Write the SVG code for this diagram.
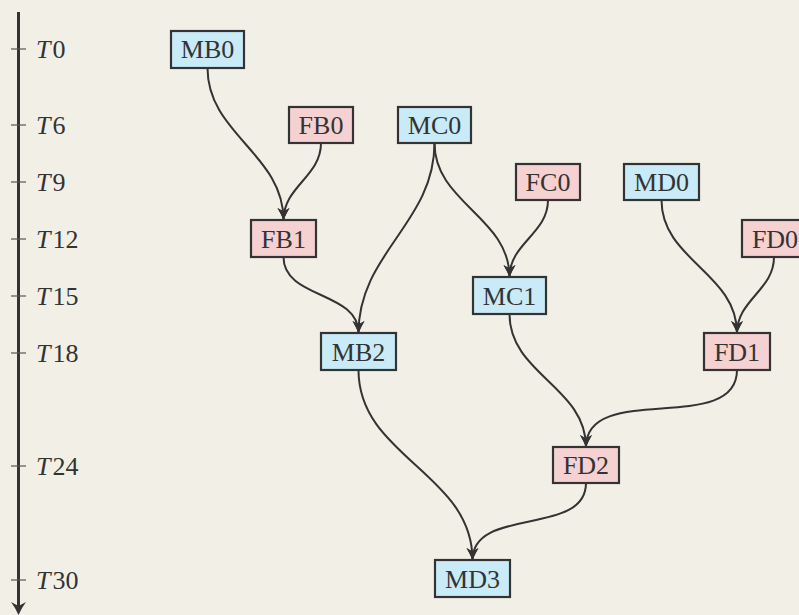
<svg xmlns="http://www.w3.org/2000/svg" width="799" height="615" viewBox="0 0 799 615">
<style>
.bg{fill:#f2f0e6}
.box{stroke:#333;stroke-width:2.2}
.m{fill:#c8ebf7}
.f{fill:#f6d1d1}
.lbl{font-family:"Liberation Serif","Times New Roman",serif;font-size:26px;fill:#333;text-anchor:middle}
.ax{font-family:"Liberation Serif","Times New Roman",serif;font-size:26px;fill:#333}
.edge{fill:none;stroke:#333;stroke-width:2}
.tick{stroke:#555;stroke-width:1.2}
</style>
<defs>
<marker id="arr" markerUnits="userSpaceOnUse" markerWidth="16" markerHeight="16" viewBox="-14 -8 16 16" refX="0" refY="0" orient="auto">
<path d="M0,0 Q-6,-2.5 -12,-6 L-8.5,0 L-12,6 Q-6,2.5 0,0Z" fill="#333"/>
</marker>
</defs>
<rect class="bg" x="0" y="0" width="799" height="615"/>
<g id="axis">
<line x1="18.5" y1="12" x2="18.5" y2="606" stroke="#333" stroke-width="3"/>
<path d="M18.5,615 Q15.5,608 11,602 L18.5,606 L26,602 Q21.5,608 18.5,615Z" fill="#333"/>
<line class="tick" x1="11" y1="49" x2="26" y2="49"/>
<line class="tick" x1="11" y1="125" x2="26" y2="125"/>
<line class="tick" x1="11" y1="182" x2="26" y2="182"/>
<line class="tick" x1="11" y1="239" x2="26" y2="239"/>
<line class="tick" x1="11" y1="296" x2="26" y2="296"/>
<line class="tick" x1="11" y1="353" x2="26" y2="353"/>
<line class="tick" x1="11" y1="466" x2="26" y2="466"/>
<line class="tick" x1="11" y1="580" x2="26" y2="580"/>
<text class="ax" x="36" y="58"><tspan font-style="italic">T</tspan><tspan dx="2">0</tspan></text>
<text class="ax" x="36" y="134"><tspan font-style="italic">T</tspan><tspan dx="2">6</tspan></text>
<text class="ax" x="36" y="191"><tspan font-style="italic">T</tspan><tspan dx="2">9</tspan></text>
<text class="ax" x="36" y="248"><tspan font-style="italic">T</tspan><tspan dx="2">12</tspan></text>
<text class="ax" x="36" y="305"><tspan font-style="italic">T</tspan><tspan dx="2">15</tspan></text>
<text class="ax" x="36" y="362"><tspan font-style="italic">T</tspan><tspan dx="2">18</tspan></text>
<text class="ax" x="36" y="475"><tspan font-style="italic">T</tspan><tspan dx="2">24</tspan></text>
<text class="ax" x="36" y="589"><tspan font-style="italic">T</tspan><tspan dx="2">30</tspan></text>
</g>
<g id="edges">
<path class="edge" marker-end="url(#arr)" d="M207.5,68 C207.5,134 283.5,154 283.5,220"/>
<path class="edge" marker-end="url(#arr)" d="M321,143 C321,176.5 283.5,186.5 283.5,220"/>
<path class="edge" marker-end="url(#arr)" d="M434.5,143 C434.5,223 358.5,253 358.5,333"/>
<path class="edge" marker-end="url(#arr)" d="M434.5,143 C434.5,203 509.5,217 509.5,277"/>
<path class="edge" marker-end="url(#arr)" d="M548,200 C548,233.7 509.5,243.3 509.5,277"/>
<path class="edge" marker-end="url(#arr)" d="M661.5,200 C661.5,260 737,273 737,333"/>
<path class="edge" marker-end="url(#arr)" d="M774,257 C774,290 737,300 737,333"/>
<path class="edge" marker-end="url(#arr)" d="M283.5,257 C283.5,299 358.5,291 358.5,333"/>
<path class="edge" marker-end="url(#arr)" d="M509.5,314 C509.5,374 586,387 586,447"/>
<path class="edge" marker-end="url(#arr)" d="M737,370 C737,436 586,381 586,447"/>
<path class="edge" marker-end="url(#arr)" d="M358.5,370 C358.5,457 472.5,473 472.5,560"/>
<path class="edge" marker-end="url(#arr)" d="M586,483 C586,537 472.5,506 472.5,560"/>
</g>
<g id="MB0"><rect class="box m" x="171" y="31" width="73" height="37"/><text class="lbl" x="207.5" y="58">MB0</text></g>
<g id="FB0"><rect class="box f" x="289" y="107" width="64" height="36"/><text class="lbl" x="321" y="134">FB0</text></g>
<g id="MC0"><rect class="box m" x="398" y="107" width="73" height="36"/><text class="lbl" x="434.5" y="134">MC0</text></g>
<g id="FC0"><rect class="box f" x="516" y="164" width="64" height="36"/><text class="lbl" x="548" y="191">FC0</text></g>
<g id="MD0"><rect class="box m" x="624" y="164" width="75" height="36"/><text class="lbl" x="661.5" y="191">MD0</text></g>
<g id="FB1"><rect class="box f" x="251" y="220" width="65" height="37"/><text class="lbl" x="283.5" y="247.5">FB1</text></g>
<g id="FD0"><rect class="box f" x="742" y="220" width="66" height="37"/><text class="lbl" x="775" y="247.5">FD0</text></g>
<g id="MC1"><rect class="box m" x="473" y="277" width="73" height="37"/><text class="lbl" x="509.5" y="304.5">MC1</text></g>
<g id="MB2"><rect class="box m" x="321" y="333" width="75" height="37"/><text class="lbl" x="358.5" y="360.5">MB2</text></g>
<g id="FD1"><rect class="box f" x="704" y="333" width="66" height="37"/><text class="lbl" x="737" y="360.5">FD1</text></g>
<g id="FD2"><rect class="box f" x="553" y="447" width="66" height="36"/><text class="lbl" x="586" y="474">FD2</text></g>
<g id="MD3"><rect class="box m" x="435" y="560" width="75" height="37"/><text class="lbl" x="472.5" y="587.5">MD3</text></g>
</svg>
